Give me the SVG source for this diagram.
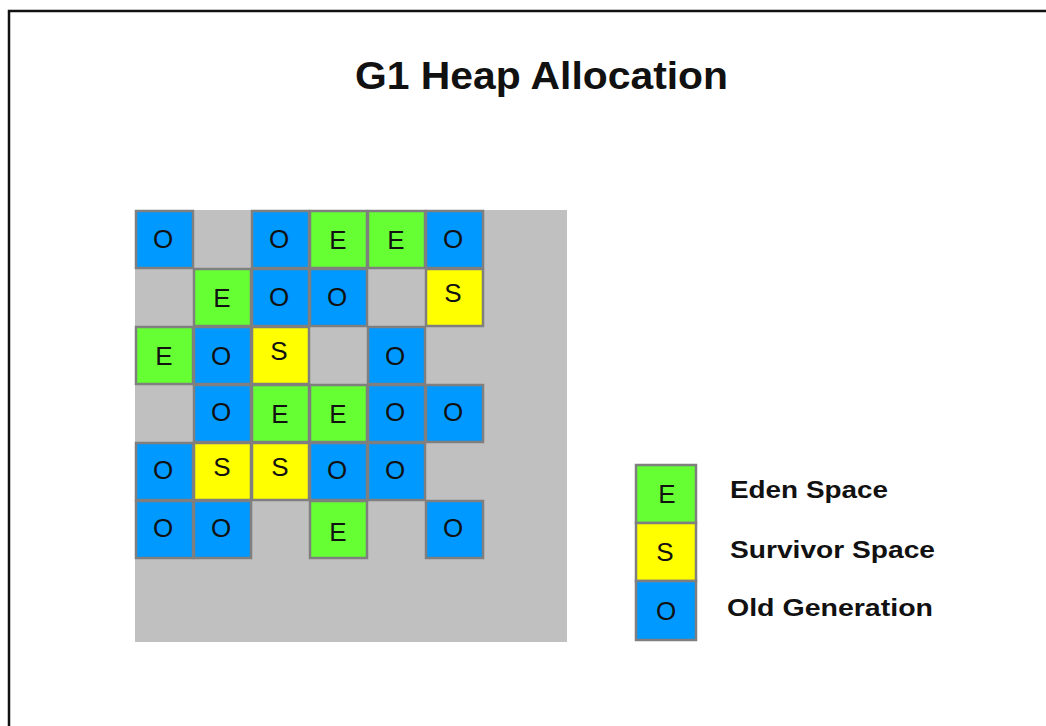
<svg xmlns="http://www.w3.org/2000/svg" width="1046" height="726" viewBox="0 0 1046 726">
<style>
.cell{stroke:#7f7f7f;stroke-width:2.5}
.e{fill:#66ff33}
.s{fill:#ffff00}
.o{fill:#0099ff}
.t{font-family:"Liberation Sans",Arial,sans-serif;font-size:26px;fill:#111;text-anchor:middle}
.lbl{font-family:"Liberation Sans",Arial,sans-serif;font-size:24px;font-weight:bold;fill:#111}
.title{font-family:"Liberation Sans",Arial,sans-serif;font-size:38px;font-weight:bold;fill:#111}
</style>
<rect x="0" y="0" width="1046" height="726" fill="#ffffff"/>
<rect x="9" y="11" width="1060" height="740" fill="none" stroke="#111" stroke-width="2.5"/>
<text class="title" x="355" y="89" textLength="373" lengthAdjust="spacingAndGlyphs">G1 Heap Allocation</text>
<g id="heap">
<rect x="135" y="210" width="432" height="432" fill="#c0c0c0"/>
</g>
<g id="regions">
<g id="r0c0"><rect class="cell o" x="136" y="211" width="57" height="57"/><text class="t" x="163" y="248">O</text></g>
<g id="r0c2"><rect class="cell o" x="252" y="211" width="57" height="57"/><text class="t" x="279" y="248">O</text></g>
<g id="r0c3"><rect class="cell e" x="310" y="211" width="57" height="57"/><text class="t" x="338" y="249">E</text></g>
<g id="r0c4"><rect class="cell e" x="368" y="211" width="57" height="57"/><text class="t" x="396" y="249">E</text></g>
<g id="r0c5"><rect class="cell o" x="426" y="211" width="57" height="57"/><text class="t" x="453" y="248">O</text></g>
<g id="r1c1"><rect class="cell e" x="194" y="269" width="57" height="57"/><text class="t" x="222" y="307">E</text></g>
<g id="r1c2"><rect class="cell o" x="252" y="269" width="57" height="57"/><text class="t" x="279" y="306">O</text></g>
<g id="r1c3"><rect class="cell o" x="310" y="269" width="57" height="57"/><text class="t" x="337" y="306">O</text></g>
<g id="r1c5"><rect class="cell s" x="426" y="269" width="57" height="57"/><text class="t" x="453" y="302">S</text></g>
<g id="r2c0"><rect class="cell e" x="136" y="327" width="57" height="57"/><text class="t" x="164" y="365">E</text></g>
<g id="r2c1"><rect class="cell o" x="194" y="327" width="57" height="57"/><text class="t" x="221" y="365">O</text></g>
<g id="r2c2"><rect class="cell s" x="252" y="327" width="57" height="57"/><text class="t" x="279" y="360">S</text></g>
<g id="r2c4"><rect class="cell o" x="368" y="327" width="57" height="57"/><text class="t" x="395" y="365">O</text></g>
<g id="r3c1"><rect class="cell o" x="194" y="385" width="57" height="57"/><text class="t" x="221" y="421">O</text></g>
<g id="r3c2"><rect class="cell e" x="252" y="385" width="57" height="57"/><text class="t" x="280" y="423">E</text></g>
<g id="r3c3"><rect class="cell e" x="310" y="385" width="57" height="57"/><text class="t" x="338" y="423">E</text></g>
<g id="r3c4"><rect class="cell o" x="368" y="385" width="57" height="57"/><text class="t" x="395" y="421">O</text></g>
<g id="r3c5"><rect class="cell o" x="426" y="385" width="57" height="57"/><text class="t" x="453" y="421">O</text></g>
<g id="r4c0"><rect class="cell o" x="136" y="443" width="57" height="57"/><text class="t" x="163" y="479">O</text></g>
<g id="r4c1"><rect class="cell s" x="194" y="443" width="57" height="57"/><text class="t" x="222" y="476">S</text></g>
<g id="r4c2"><rect class="cell s" x="252" y="443" width="57" height="57"/><text class="t" x="280" y="476">S</text></g>
<g id="r4c3"><rect class="cell o" x="310" y="443" width="57" height="57"/><text class="t" x="337" y="479">O</text></g>
<g id="r4c4"><rect class="cell o" x="368" y="443" width="57" height="57"/><text class="t" x="395" y="479">O</text></g>
<g id="r5c0"><rect class="cell o" x="136" y="501" width="57" height="57"/><text class="t" x="163" y="537">O</text></g>
<g id="r5c1"><rect class="cell o" x="194" y="501" width="57" height="57"/><text class="t" x="221" y="537">O</text></g>
<g id="r5c3"><rect class="cell e" x="310" y="501" width="57" height="57"/><text class="t" x="338" y="541">E</text></g>
<g id="r5c5"><rect class="cell o" x="426" y="501" width="57" height="57"/><text class="t" x="453" y="537">O</text></g>
</g>
<g id="legend">
<g id="leg-eden"><rect class="cell e" x="636" y="465" width="60" height="58"/><text class="t" x="667" y="503">E</text><text class="lbl" x="730" y="498" textLength="158" lengthAdjust="spacingAndGlyphs">Eden Space</text></g>
<g id="leg-surv"><rect class="cell s" x="636" y="523" width="60" height="58"/><text class="t" x="665" y="561">S</text><text class="lbl" x="730" y="558" textLength="205" lengthAdjust="spacingAndGlyphs">Survivor Space</text></g>
<g id="leg-old"><rect class="cell o" x="636" y="581" width="60" height="59"/><text class="t" x="666" y="620">O</text><text class="lbl" x="727" y="616" textLength="206" lengthAdjust="spacingAndGlyphs">Old Generation</text></g>
</g>
<g id="connectors"/>
</svg>
